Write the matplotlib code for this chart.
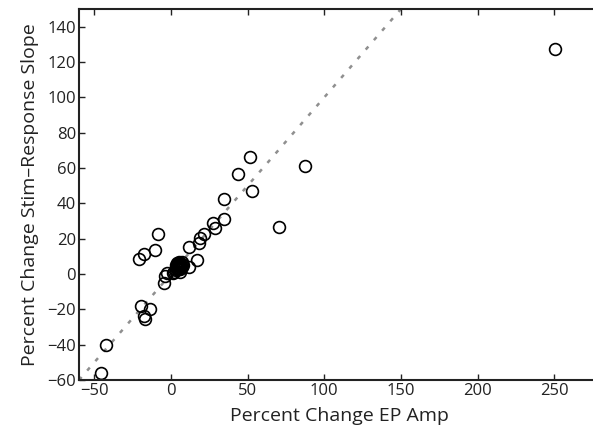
#!/usr/bin/env python3
"""Scatter of percent change in stim-response slope vs. EP amplitude, with unity line."""

import numpy as np
import matplotlib
matplotlib.use("Agg")
import matplotlib.pyplot as plt

OUTPUT_PNG = "out.png"

# percent change EP amplitude (x) and stim-response slope (y)
ep_amp = [250.8, 87.2, 70.6, 51.3, 52.8, 43.4, 34.6, 34.3, 27.1, 28.4,
          21.3, 18.7, 18.3, 11.5, 17.0, 11.8, -8.3, -10.5, -17.9, -21.1,
          -2.6, -3.7, -4.5, 1.5, -19.5, -14.0, -17.9, -17.2, -42.2, -45.7,
          # dense cluster near the origin
          3.0, 4.0, 5.0, 6.0, 5.0, 7.0, 6.0, 8.0, 4.0, 7.0, 3.0, 6.0, 2.0,
          4.5, 5.5, 6.5, 5.0, 4.0, 6.0, 5.5, 4.5, 7.5, 3.5]
slope = [127.1, 61.1, 26.5, 66.4, 47.1, 56.6, 42.4, 31.2, 29.1, 26.3,
         22.9, 20.6, 17.5, 15.2, 7.7, 4.2, 22.9, 13.4, 11.1, 8.6,
         0.5, -1.0, -5.2, 0.5, -18.2, -19.8, -23.6, -25.5, -40.1, -55.9,
         2.0, 5.0, 3.0, 6.0, 7.0, 4.0, 1.0, 5.0, 3.0, 7.0, 5.0, 3.0, 1.0,
         4.5, 5.5, 4.0, 5.0, 6.0, 5.0, 3.5, 6.5, 5.5, 4.0]

# unity line
unity = [-60, 150]

X_TICKS = [-50, 0, 50, 100, 150, 200, 250]
Y_TICKS = [-60, -40, -20, 0, 20, 40, 60, 80, 100, 120, 140]

plt.rcParams["font.family"] = ["Open Sans", "DejaVu Sans"]


def main():
    fig = plt.figure(figsize=(5.93, 4.37), dpi=100)
    ax = fig.add_axes([0.1332, 0.1304, 0.879, 0.849])

    ax.plot(unity, unity, color="#8f8f8f", linewidth=1.8,
            linestyle=(0, (1.6, 3.4)), zorder=1)
    ax.plot(ep_amp, slope, linestyle="none", marker="o", markersize=8.5,
            markerfacecolor="none", markeredgecolor="black",
            markeredgewidth=1.2, zorder=2)

    ax.set_xlim(-60, 280)
    ax.set_ylim(-60, 150)
    ax.set_xticks(X_TICKS)
    ax.set_yticks(Y_TICKS)
    ax.tick_params(direction="in", length=4, width=1, labelsize=12,
                   top=True, right=False, colors="#222222")
    ax.tick_params(axis="x", pad=2)
    ax.tick_params(axis="y", pad=2)

    for side in ["left", "bottom", "top"]:
        ax.spines[side].set_linewidth(1.5)
        ax.spines[side].set_color("#222222")
    ax.spines["right"].set_visible(False)

    ax.set_xlabel("Percent Change EP Amp", fontsize=14, color="#222222", labelpad=6)
    ax.set_ylabel("Percent Change Stim\u2013Response Slope", fontsize=14,
                  color="#222222", labelpad=6)

    fig.savefig(OUTPUT_PNG, dpi=100)


if __name__ == "__main__":
    main()
